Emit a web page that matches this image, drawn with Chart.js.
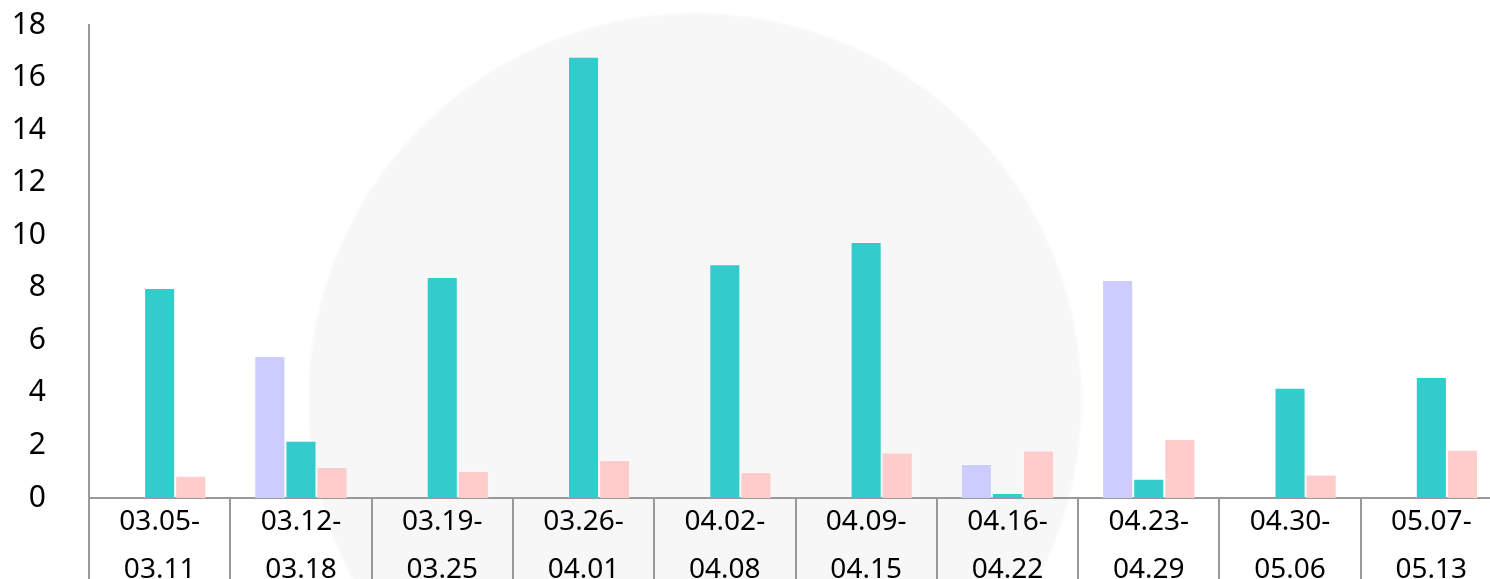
<!DOCTYPE html>
<html><head><meta charset="utf-8">
<script src="https://cdn.jsdelivr.net/npm/chart.js@4.4.1/dist/chart.umd.min.js"></script>
<style>
html,body{margin:0;padding:0;background:#fff;overflow:hidden;}
#wrap{position:relative;width:1490px;height:579px;overflow:hidden;
 background: radial-gradient(circle at 695px 400px, #f7f7f7 0px, #f7f7f7 385px, rgba(255,255,255,0) 388px);}
canvas{display:block;}
</style></head>
<body>
<div id="wrap"><canvas id="c" width="1502" height="579"></canvas></div>
<script>
const categories = [
  ['03.05-','03.11'],['03.12-','03.18'],['03.19-','03.25'],['03.26-','04.01'],['04.02-','04.08'],
  ['04.09-','04.15'],['04.16-','04.22'],['04.23-','04.29'],['04.30-','05.06'],['05.07-','05.13']
];
const seriesLavender = [0, 5.40, 0, 0, 0, 0, 1.29, 8.30, 0, 0];
const seriesTeal     = [7.99, 2.18, 8.41, 16.79, 8.90, 9.74, 0.19, 0.73, 4.20, 4.60];
const seriesPink     = [0.85, 1.18, 1.03, 1.45, 0.99, 1.73, 1.81, 2.25, 0.89, 1.84];
const yTicks = [0, 2, 4, 6, 8, 10, 12, 14, 16, 18];

const FONT = '"Noto Sans", "Open Sans", sans-serif';
const EDGE = 'rgba(255,255,255,0.25)';
new Chart(document.getElementById('c'), {
  type: 'bar',
  data: {
    labels: categories,
    datasets: [
      {data: seriesLavender, backgroundColor: '#ccccff', borderColor: EDGE, borderWidth: 1},
      {data: seriesTeal, backgroundColor: '#33cccc', borderColor: EDGE, borderWidth: 1},
      {data: seriesPink, backgroundColor: '#ffcccc', borderColor: EDGE, borderWidth: 1}
    ]
  },
  options: {
    responsive: false,
    animation: false,
    events: [],
    layout: {padding: {top: 25, right: 0, left: 0, bottom: 0}},
    plugins: {legend: {display: false}, tooltip: {enabled: false}},
    datasets: {bar: {categoryPercentage: 0.66, barPercentage: 1.0}},
    scales: {
      x: {
        grid: {display: true, drawOnChartArea: false, drawTicks: true, tickLength: 100, color: '#999', lineWidth: 2, offset: true},
        border: {display: true, color: '#999', width: 2},
        ticks: {color: '#000', font: {family: FONT, size: 28, lineHeight: 1.72}, padding: -100, maxRotation: 0, autoSkip: false},
        afterFit: s => { s.height = 81; s.paddingLeft = 0; s.paddingRight = 0; }
      },
      y: {
        min: 0, max: 18,
        afterBuildTicks: s => { s.ticks = yTicks.map(v => ({value: v})); },
        grid: {display: false, drawTicks: false},
        border: {display: true, color: '#999', width: 2},
        ticks: {color: '#000', font: {family: FONT, size: 30}, padding: 43},
        afterFit: s => { s.width = 89; s.paddingTop = 0; s.paddingBottom = 0; }
      }
    }
  }
});
</script>
</body></html>
